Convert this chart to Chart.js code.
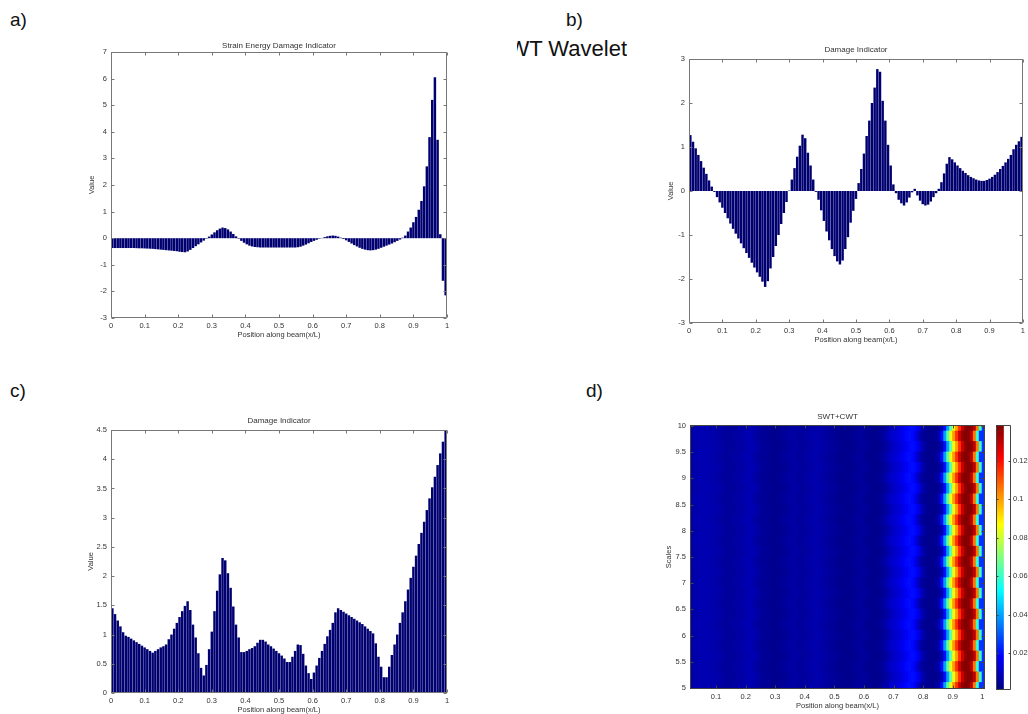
<!DOCTYPE html>
<html>
<head>
<meta charset="utf-8">
<title>Damage indicators along the beam</title>
<script src="https://cdn.jsdelivr.net/npm/chart.js@4.4.1/dist/chart.umd.min.js"></script>
<style>
  html, body { margin: 0; padding: 0; background: #fff; }
  body {
    width: 1028px; height: 714px; position: relative; overflow: hidden;
    font-family: "Liberation Sans", Arial, sans-serif;
  }
  canvas { position: absolute; }
  .tag { position: absolute; font-size: 19px; line-height: 20px; color: #111; }
  .wavelet { position: absolute; left: 517px; top: 37px; width: 110px; height: 26px; overflow: hidden; }
  .wavelet span {
    position: absolute; right: 0; top: 0; white-space: nowrap;
    font-size: 22px; line-height: 24px; color: #111;
  }
</style>
</head>
<body>

<div class="tag" style="left:10px; top:10px;">a)</div>
<div class="tag" style="left:566px; top:10px;">b)</div>
<div class="wavelet"><span>WT Wavelet</span></div>
<div class="tag" style="left:10px; top:381px;">c)</div>
<div class="tag" style="left:586px; top:381px;">d)</div>

<canvas id="chart-a" width="400" height="330" style="left:60px; top:30px;"></canvas>
<canvas id="chart-b" width="388" height="330" style="left:640px; top:30px;"></canvas>
<canvas id="chart-c" width="400" height="314" style="left:60px; top:400px;"></canvas>
<canvas id="chart-d" width="360" height="314" style="left:640px; top:400px;"></canvas>
<canvas id="chart-cbar" width="38" height="314" style="left:990px; top:400px;"></canvas>

<script>
// bar centres sit at (i + 0.5) * BAR_STEP along the beam
const BAR_STEP = 0.008;

// a) strain energy damage indicator
const strainEnergy = [
  -0.37, -0.37, -0.37, -0.37, -0.37, -0.37, -0.37, -0.37, -0.37, -0.375,
  -0.38, -0.38, -0.385, -0.39, -0.395, -0.40, -0.41, -0.42, -0.43, -0.44,
  -0.45, -0.46, -0.47, -0.48, -0.49, -0.51, -0.52, -0.53, -0.50, -0.44,
  -0.37, -0.30, -0.23, -0.16, -0.09, -0.02, 0.06, 0.14, 0.22, 0.30,
  0.36, 0.40, 0.38, 0.33, 0.25, 0.16, 0.07, -0.02, -0.10, -0.17,
  -0.23, -0.28, -0.31, -0.33, -0.34, -0.35, -0.35, -0.35, -0.35, -0.35,
  -0.35, -0.35, -0.35, -0.35, -0.35, -0.35, -0.35, -0.35, -0.35, -0.34,
  -0.32, -0.28, -0.24, -0.19, -0.14, -0.10, -0.06, -0.02, 0.01, 0.04,
  0.07, 0.09, 0.10, 0.09, 0.06, 0.02, -0.03, -0.08, -0.14, -0.20,
  -0.26, -0.31, -0.36, -0.40, -0.43, -0.45, -0.46, -0.45, -0.43, -0.40,
  -0.36, -0.32, -0.28, -0.24, -0.20, -0.15, -0.10, -0.05, 0.02, 0.10,
  0.25, 0.40, 0.60, 0.80, 1.07, 1.40, 1.95, 2.70, 3.80, 5.20,
  6.05, 3.70, 0.15, -1.60, -2.15
];

// b) damage indicator (SWT)
const damageSwt = [
  1.27, 1.12, 0.97, 0.82, 0.68, 0.53, 0.39, 0.24, 0.10, -0.02,
  -0.14, -0.26, -0.38, -0.50, -0.62, -0.74, -0.86, -0.97, -1.08, -1.19,
  -1.30, -1.41, -1.52, -1.63, -1.74, -1.85, -1.95, -2.06, -2.18, -2.05,
  -1.76, -1.50, -1.25, -1.00, -0.75, -0.50, -0.25, 0.01, 0.26, 0.52,
  0.78, 1.03, 1.28, 1.20, 0.87, 0.58, 0.26, -0.02, -0.20, -0.44,
  -0.68, -0.92, -1.12, -1.32, -1.48, -1.60, -1.67, -1.58, -1.32, -1.05,
  -0.72, -0.45, -0.18, 0.18, 0.50, 0.85, 1.25, 1.60, 2.00, 2.35,
  2.77, 2.71, 2.05, 1.60, 1.05, 0.58, 0.15, -0.05, -0.20, -0.28,
  -0.33, -0.26, -0.15, -0.03, 0.05, -0.10, -0.22, -0.30, -0.33, -0.31,
  -0.24, -0.14, -0.05, 0.05, 0.20, 0.40, 0.62, 0.77, 0.72, 0.65,
  0.58, 0.52, 0.46, 0.41, 0.36, 0.32, 0.29, 0.26, 0.24, 0.23,
  0.23, 0.25, 0.28, 0.32, 0.37, 0.43, 0.50, 0.57, 0.65, 0.73,
  0.82, 0.95, 1.05, 1.13, 1.23
];

// c) damage indicator (CWT)
const damageCwt = [
  1.45, 1.35, 1.24, 1.14, 1.04, 0.98, 0.96, 0.93, 0.90, 0.87,
  0.84, 0.81, 0.78, 0.75, 0.72, 0.69, 0.72, 0.75, 0.78, 0.80,
  0.83, 0.92, 1.00, 1.10, 1.20, 1.30, 1.40, 1.49, 1.57, 1.42,
  1.17, 0.95, 0.68, 0.43, 0.30, 0.48, 0.75, 1.05, 1.40, 1.75,
  2.03, 2.31, 2.27, 2.05, 1.80, 1.48, 1.17, 0.95, 0.70, 0.70,
  0.72, 0.75, 0.77, 0.80, 0.86, 0.91, 0.91, 0.88, 0.83, 0.80,
  0.76, 0.72, 0.68, 0.64, 0.59, 0.53, 0.53, 0.62, 0.72, 0.83,
  0.82, 0.67, 0.47, 0.34, 0.24, 0.35, 0.47, 0.60, 0.72, 0.84,
  0.97, 1.08, 1.20, 1.38, 1.45, 1.42, 1.39, 1.36, 1.33, 1.30,
  1.27, 1.24, 1.21, 1.18, 1.14, 1.10, 1.06, 1.02, 0.85, 0.62,
  0.45, 0.27, 0.27, 0.45, 0.65, 0.83, 1.00, 1.20, 1.38, 1.57,
  1.77, 1.97, 2.16, 2.35, 2.55, 2.74, 2.93, 3.13, 3.33, 3.52,
  3.70, 3.90, 4.10, 4.30, 4.50
];

// d) SWT+CWT coefficient map: one value per column, columns at HEAT_START + j * HEAT_STEP
const HEAT_START = 0.015;
const HEAT_STEP = 0.01;
const swtCwtProfile = [
  0.006, 0.006, 0.007, 0.007, 0.008, 0.008, 0.008, 0.007, 0.007, 0.007,
  0.006, 0.006, 0.005, 0.005, 0.005, 0.005, 0.006, 0.006, 0.006, 0.007,
  0.008, 0.008, 0.007, 0.006, 0.005, 0.004, 0.004, 0.004, 0.003, 0.003,
  0.003, 0.004, 0.004, 0.005, 0.005, 0.006, 0.006, 0.005, 0.005, 0.005,
  0.006, 0.006, 0.007, 0.007, 0.007, 0.006, 0.006, 0.005, 0.005, 0.004,
  0.004, 0.003, 0.003, 0.003, 0.003, 0.003, 0.004, 0.004, 0.005, 0.005,
  0.004, 0.003, 0.003, 0.003, 0.003, 0.004, 0.005, 0.007, 0.009, 0.011,
  0.012, 0.013, 0.015, 0.017, 0.019, 0.020, 0.019, 0.016, 0.010, 0.006,
  0.004, 0.003, 0.003, 0.003, 0.004, 0.008, 0.020, 0.040, 0.065, 0.085,
  0.100, 0.115, 0.128, 0.136, 0.138, 0.137, 0.130, 0.105, 0.060, 0.025
];
// scale rows and how many columns each row's ridge is pulled to the left
const scaleRows = [5.0, 5.2, 5.4, 5.6, 5.8, 6.0, 6.2, 6.4, 6.6, 6.8, 7.0, 7.2, 7.4,
                   7.6, 7.8, 8.0, 8.2, 8.4, 8.6, 8.8, 9.0, 9.2, 9.4, 9.6, 9.8, 10.0];
const rowShift = [1, 0, 1, 0, 1, 0, 1, 0, 1, 0, 1, 0, 1,
                  0, 1, 0, 1, 0, 1, 0, 1, 0, 1, 0, 1, 0];
const ROW_HALF = 0.1;
const COLOR_MIN = 0.001;
const COLOR_MAX = 0.1385;

const FONT_FAMILY = '"Liberation Sans", Arial, sans-serif';
const TEXT_COLOR = '#333';
const AXIS_COLOR = '#777';
const BAR_FILL = '#000070';
const TICK_FONT = { family: FONT_FAMILY, size: 7.5 };

const fmt = v => String(+Number(v).toFixed(4));

// MATLAB style jet colormap
function jet(t) {
    t = Math.max(0, Math.min(1, t));
    const c = x => Math.round(255 * Math.max(0, Math.min(1, x)));
    return `rgb(${c(1.5 - Math.abs(4 * t - 3))},${c(1.5 - Math.abs(4 * t - 2))},${c(1.5 - Math.abs(4 * t - 1))})`;
}
const jetValue = v => jet((v - COLOR_MIN) / (COLOR_MAX - COLOR_MIN));

// Box around the plot area, inward ticks on every side, titles
const matlabFrame = {
    id: 'matlabFrame',
    beforeDatasetsDraw(chart, args, opts) {
        if (!opts.fill) return;
        const { ctx, chartArea: a } = chart;
        ctx.save();
        ctx.fillStyle = opts.fill;
        ctx.fillRect(a.left, a.top, a.right - a.left, a.bottom - a.top);
        ctx.restore();
    },
    afterDatasetsDraw(chart, args, opts) {
        const { ctx, chartArea: a, scales } = chart;
        const tick = opts.tickLength || 3;
        const l = Math.round(a.left) + 0.5, r = Math.round(a.right) - 0.5;
        const t = Math.round(a.top) + 0.5, b = Math.round(a.bottom) - 0.5;

        ctx.save();
        ctx.strokeStyle = opts.axisColor || AXIS_COLOR;
        ctx.lineWidth = 1;
        ctx.beginPath();
        ctx.rect(l, t, r - l, b - t);
        if (scales.x && scales.x.options.display) {
            scales.x.ticks.forEach(tk => {
                const px = Math.round(scales.x.getPixelForValue(tk.value)) + 0.5;
                ctx.moveTo(px, b); ctx.lineTo(px, b - tick);
                ctx.moveTo(px, t); ctx.lineTo(px, t + tick);
            });
        }
        if (scales.y) {
            scales.y.ticks.forEach(tk => {
                const py = Math.round(scales.y.getPixelForValue(tk.value)) + 0.5;
                ctx.moveTo(l, py); ctx.lineTo(l + tick, py);
                ctx.moveTo(r, py); ctx.lineTo(r - tick, py);
            });
        }
        ctx.stroke();

        const cx = (a.left + a.right) / 2;
        const cy = (a.top + a.bottom) / 2;
        ctx.fillStyle = TEXT_COLOR;
        ctx.textAlign = 'center';
        ctx.textBaseline = 'middle';
        if (opts.title) {
            ctx.font = `8px ${FONT_FAMILY}`;
            ctx.fillText(opts.title, cx, a.top - (opts.titleGap || 8));
        }
        ctx.font = `7.5px ${FONT_FAMILY}`;
        if (opts.xLabel) ctx.fillText(opts.xLabel, cx, a.bottom + 17);
        if (opts.yLabel) {
            ctx.translate(a.left - (opts.yLabelGap || 19), cy);
            ctx.rotate(-Math.PI / 2);
            ctx.fillText(opts.yLabel, 0, 0);
        }
        ctx.restore();
    }
};
Chart.register(matlabFrame);

function xScale(min, max, height) {
    return {
        type: 'linear', min, max, offset: false,
        grid: { display: false, offset: false, drawTicks: false },
        border: { display: false },
        ticks: {
            stepSize: 0.1, includeBounds: false, padding: 3, maxRotation: 0, autoSkip: false,
            font: TICK_FONT, color: TEXT_COLOR, callback: fmt
        },
        afterFit: s => { s.height = height; }
    };
}

function yScale(min, max, step, width, position) {
    return {
        type: 'linear', min, max, position: position || 'left',
        grid: { display: false, drawTicks: false },
        border: { display: false },
        ticks: {
            stepSize: step, includeBounds: false, padding: position === 'right' ? 2 : 4, autoSkip: false,
            font: TICK_FONT, color: TEXT_COLOR, callback: fmt
        },
        afterFit: s => { s.width = width; }
    };
}

function barChart(id, values, y, frame, box) {
    const points = values.map((v, i) => ({ x: (i + 0.5) * BAR_STEP, y: v }));
    return new Chart(document.getElementById(id), {
        type: 'bar',
        data: {
            datasets: [{
                data: points,
                backgroundColor: BAR_FILL,
                borderWidth: 0,
                barPercentage: 0.92,
                categoryPercentage: 1
            }]
        },
        options: {
            responsive: false,
            animation: false,
            layout: { padding: box.padding },
            plugins: { legend: { display: false }, tooltip: { enabled: false }, matlabFrame: frame },
            scales: {
                x: xScale(0, 1, box.xHeight),
                y: yScale(y[0], y[1], y[2], box.yWidth)
            }
        }
    });
}

const xLabel = 'Position along beam(x/L)';

barChart('chart-a', strainEnergy, [-3, 7, 1],
    { title: 'Strain Energy Damage Indicator', titleGap: 6, xLabel, yLabel: 'Value' },
    { padding: { top: 22, right: 13, left: 0, bottom: 0 }, xHeight: 42, yWidth: 51 });

barChart('chart-b', damageSwt, [-3, 3, 1],
    { title: 'Damage Indicator', titleGap: 9, xLabel, yLabel: 'Value', yLabelGap: 18 },
    { padding: { top: 29, right: 3, left: 0, bottom: 0 }, xHeight: 37, yWidth: 49 });

barChart('chart-c', damageCwt, [0, 4.5, 0.5],
    { title: 'Damage Indicator', titleGap: 9, xLabel, yLabel: 'Value', yLabelGap: 20 },
    { padding: { top: 30, right: 13, left: 0, bottom: 0 }, xHeight: 21, yWidth: 51 });

// d) heat map: one floating-bar dataset per scale row
const heatColumns = swtCwtProfile.map((_, j) => HEAT_START + j * HEAT_STEP);
const heatDatasets = scaleRows.map((s, r) => ({
    data: heatColumns.map(x => ({ x, y: [s - ROW_HALF, s + ROW_HALF] })),
    backgroundColor: heatColumns.map((_, j) =>
        jetValue(swtCwtProfile[Math.min(j + rowShift[r], swtCwtProfile.length - 1)])),
    borderWidth: 0,
    inflateAmount: 0.6,
    grouped: false,
    barPercentage: 1,
    categoryPercentage: 1
}));

new Chart(document.getElementById('chart-d'), {
    type: 'bar',
    data: { datasets: heatDatasets },
    options: {
        responsive: false,
        animation: false,
        layout: { padding: { top: 25, right: 15, left: 0, bottom: 0 } },
        plugins: {
            legend: { display: false }, tooltip: { enabled: false },
            matlabFrame: {
                title: 'SWT+CWT', titleGap: 8, xLabel, yLabel: 'Scales', yLabelGap: 21,
                fill: jetValue(0.004), axisColor: '#444'
            }
        },
        scales: {
            x: xScale(0.012, 1.009, 25),
            y: yScale(4.98, 10.02, 0.5, 50)
        }
    }
});

// colour bar for the map
new Chart(document.getElementById('chart-cbar'), {
    type: 'bar',
    data: {
        labels: ['SWT+CWT'],
        datasets: [{
            data: [[COLOR_MIN, COLOR_MAX]],
            backgroundColor: ctx => {
                const area = ctx.chart.chartArea;
                if (!area) return jetValue(COLOR_MIN);
                const g = ctx.chart.ctx.createLinearGradient(0, area.bottom, 0, area.top);
                for (let i = 0; i <= 16; i++) g.addColorStop(i / 16, jet(i / 16));
                return g;
            },
            borderWidth: 0,
            barPercentage: 1,
            categoryPercentage: 1
        }]
    },
    options: {
        responsive: false,
        animation: false,
        layout: { padding: { top: 25, right: 0, left: 6, bottom: 24 } },
        plugins: {
            legend: { display: false }, tooltip: { enabled: false },
            matlabFrame: { tickLength: 2, axisColor: '#444' }
        },
        scales: {
            x: { display: false, offset: false },
            y: yScale(COLOR_MIN, COLOR_MAX, 0.02, 17, 'right')
        }
    }
});
</script>
</body>
</html>
